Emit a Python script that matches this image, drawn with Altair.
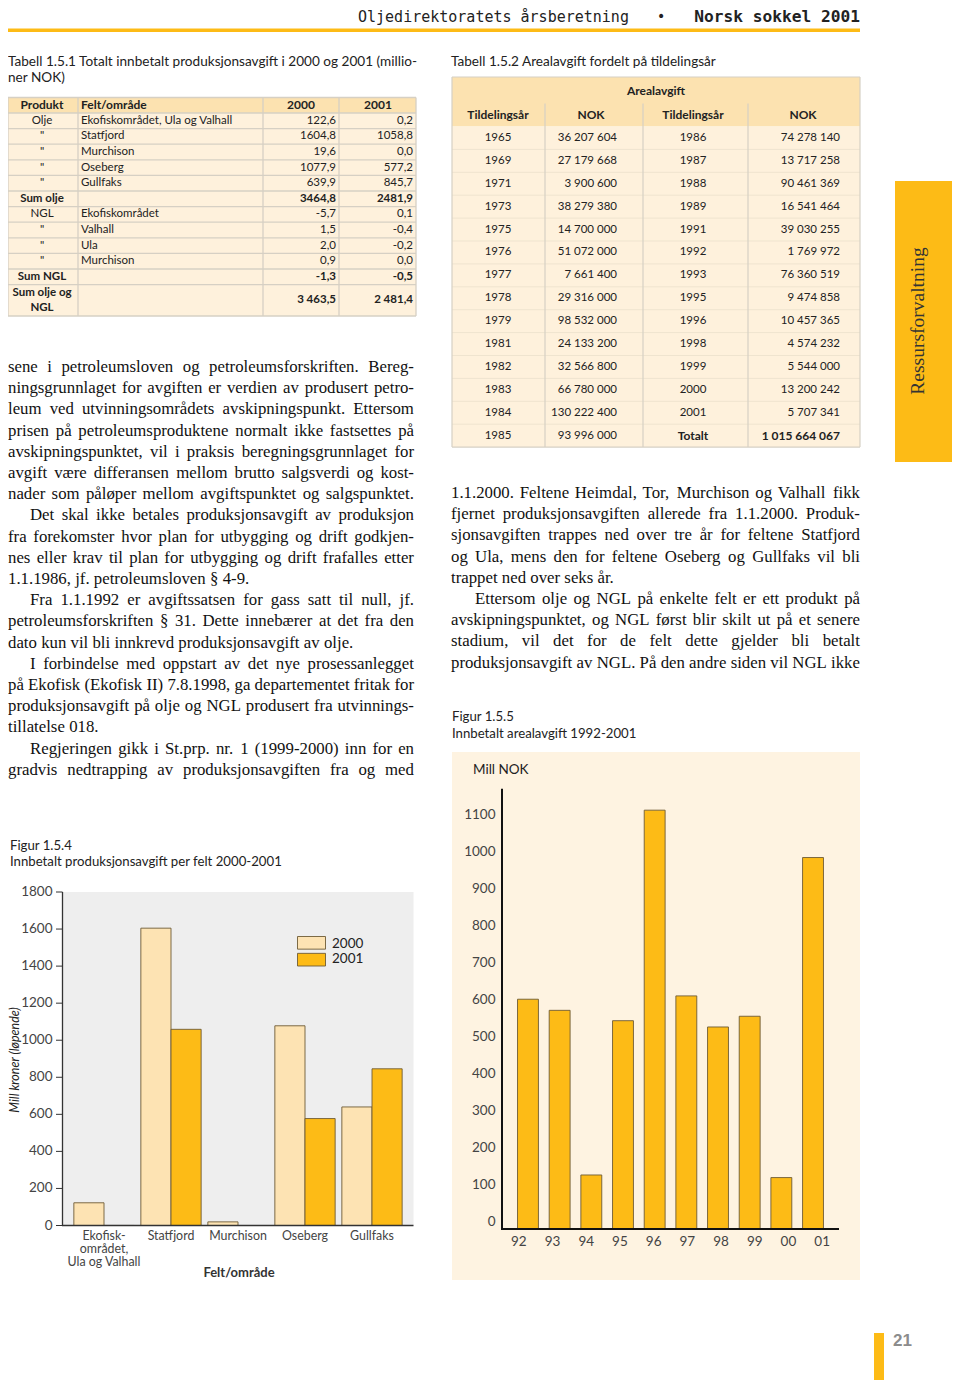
import altair as alt
import pandas as pd

# ---------------- texts and data (read from the page) ----------------
header = ["Oljedirektoratets årsberetning", "•", "Norsk sokkel 2001"]

t151_title = ["Tabell 1.5.1 Totalt innbetalt produksjonsavgift i 2000 og 2001 (millio-",
              "ner NOK)"]
t151_head = ["Produkt", "Felt/område", "2000", "2001"]
t151_produkt = ["Olje", "\"", "\"", "\"", "\"", "Sum olje", "NGL", "\"", "\"", "\"",
                "Sum NGL", "Sum olje og\nNGL"]
t151_felt = ["Ekofiskområdet, Ula og Valhall", "Statfjord", "Murchison", "Oseberg",
             "Gullfaks", "", "Ekofiskområdet", "Valhall", "Ula", "Murchison", "", ""]
t151_2000 = ["122,6", "1604,8", "19,6", "1077,9", "639,9", "3464,8", "-5,7", "1,5",
             "2,0", "0,9", "-1,3", "3 463,5"]
t151_2001 = ["0,2", "1058,8", "0,0", "577,2", "845,7", "2481,9", "0,1", "-0,4",
             "-0,2", "0,0", "-0,5", "2 481,4"]

t152_title = "Tabell 1.5.2 Arealavgift fordelt på tildelingsår"
t152_group = "Arealavgift"
t152_head = ["Tildelingsår", "NOK", "Tildelingsår", "NOK"]
t152_year_l = ["1965", "1969", "1971", "1973", "1975", "1976", "1977", "1978", "1979",
               "1981", "1982", "1983", "1984", "1985"]
t152_nok_l = ["36 207 604", "27 179 668", "3 900 600", "38 279 380", "14 700 000",
              "51 072 000", "7 661 400", "29 316 000", "98 532 000", "24 133 200",
              "32 566 800", "66 780 000", "130 222 400", "93 996 000"]
t152_year_r = ["1986", "1987", "1988", "1989", "1991", "1992", "1993", "1995", "1996",
               "1998", "1999", "2000", "2001", "Totalt"]
t152_nok_r = ["74 278 140", "13 717 258", "90 461 369", "16 541 464", "39 030 255",
              "1 769 972", "76 360 519", "9 474 858", "10 457 365", "4 574 232",
              "5 544 000", "13 200 242", "5 707 341", "1 015 664 067"]

left_paragraphs = [
    ["sene i petroleumsloven og petroleumsforskriften. Bereg-",
     "ningsgrunnlaget for avgiften er verdien av produsert petro-",
     "leum ved utvinningsområdets avskipningspunkt. Ettersom",
     "prisen på petroleumsproduktene normalt ikke fastsettes på",
     "avskipningspunktet, vil i praksis beregningsgrunnlaget for",
     "avgift være differansen mellom brutto salgsverdi og kost-",
     "nader som påløper mellom avgiftspunktet og salgspunktet."],
    ["Det skal ikke betales produksjonsavgift av produksjon",
     "fra forekomster hvor plan for utbygging og drift godkjen-",
     "nes eller krav til plan for utbygging og drift frafalles etter",
     "1.1.1986, jf. petroleumsloven § 4-9."],
    ["Fra 1.1.1992 er avgiftssatsen for gass satt til null, jf.",
     "petroleumsforskriften § 31. Dette innebærer at det fra den",
     "dato kun vil bli innkrevd produksjonsavgift av olje."],
    ["I forbindelse med oppstart av det nye prosessanlegget",
     "på Ekofisk (Ekofisk II) 7.8.1998, ga departementet fritak for",
     "produksjonsavgift på olje og NGL produsert fra utvinnings-",
     "tillatelse 018."],
    ["Regjeringen gikk i St.prp. nr. 1 (1999-2000) inn for en",
     "gradvis nedtrapping av produksjonsavgiften fra og med"],
]
right_paragraphs = [
    ["1.1.2000. Feltene Heimdal, Tor, Murchison og Valhall fikk",
     "fjernet produksjonsavgiften allerede fra 1.1.2000. Produk-",
     "sjonsavgiften trappes ned over tre år for feltene Statfjord",
     "og Ula, mens den for feltene Oseberg og Gullfaks vil bli",
     "trappet ned over seks år."],
    ["Ettersom olje og NGL på enkelte felt er ett produkt på",
     "avskipningspunktet, og NGL først blir skilt ut på et senere",
     "stadium, vil det for de felt dette gjelder bli betalt",
     "produksjonsavgift av NGL. På den andre siden vil NGL ikke"],
]

fig154_caption = ["Figur 1.5.4", "Innbetalt produksjonsavgift per felt 2000-2001"]
fig154_fields = ["Ekofisk-\nområdet,\nUla og Valhall", "Statfjord", "Murchison",
                 "Oseberg", "Gullfaks"]
fig154_years = ["2000", "2001"]
fig154_2000 = [122.6, 1604.8, 19.6, 1077.9, 639.9]
fig154_2001 = [0.2, 1058.8, 0.0, 577.2, 845.7]
fig154_yticks = [0, 200, 400, 600, 800, 1000, 1200, 1400, 1600, 1800]
fig154_ytitle = "Mill kroner (løpende)"
fig154_xtitle = "Felt/område"

fig155_caption = ["Figur 1.5.5", "Innbetalt arealavgift 1992-2001"]
fig155_years = ["92", "93", "94", "95", "96", "97", "98", "99", "00", "01"]
fig155_values = [621, 591, 146, 563, 1132, 630, 546, 575, 139, 1004]
fig155_yticks = [0, 100, 200, 300, 400, 500, 600, 700, 800, 900, 1000, 1100]
fig155_unit = "Mill NOK"

sidebar_label = "Ressursforvaltning"
page_number = "21"

# ---------------- styles ----------------
W, H = 944, 1372
M = 8
SANS = "Lato"
SERIF = "Liberation Serif"
INK = "#222222"
ORANGE = "#FDBB16"
PALE = "#FDE3B3"
HEAD = "#FCE2B0"
BODY = "#FEF1DC"
CREAM = "#FEF3E1"
GRID = "#D6D0C4"
GRAY = "#EEEEEE"
OUTLINE = "#6E5B36"
BODY_FS = 16.8

# Times / Liberation Serif advance widths (1/1000 em), used to justify body lines
_TW = {" ": 250, ".": 250, ",": 250, "-": 333, "(": 333, ")": 333, "§": 500, ":": 278,
       ";": 278, "å": 444, "ø": 500, "æ": 667, "Å": 722, "Ø": 722, "Æ": 889}
_TW.update({c: w for c, w in zip("abcdefghijklmnopqrstuvwxyz",
                                 [444, 500, 444, 500, 444, 333, 500, 500, 278, 278, 500,
                                  278, 778, 500, 500, 500, 500, 333, 389, 278, 500, 500,
                                  722, 500, 500, 444])})
_TW.update({c: w for c, w in zip("ABCDEFGHIJKLMNOPQRSTUVWXYZ",
                                 [722, 667, 667, 722, 611, 556, 722, 722, 333, 389, 722,
                                  611, 889, 722, 722, 556, 722, 667, 556, 611, 722, 722,
                                  944, 722, 722, 611])})
_TW.update({d: 500 for d in "0123456789"})


def tw(s, fs):
    return sum(_TW.get(c, 500) for c in s) * fs / 1000.0


def PXS():
    return alt.Scale(domain=[M, M + W], range=[0, W], nice=False, zero=False)


def PYS():
    return alt.Scale(domain=[M, M + H], range=[0, H], nice=False, zero=False)


def one(**kw):
    return pd.DataFrame([kw])


def tx(df, **style):
    s = dict(align="left", baseline="middle", font=SANS, fontSize=12, color=INK)
    s.update(style)
    return alt.Chart(df).mark_text(**s).encode(
        x=alt.X("x:Q", scale=PXS(), axis=None),
        y=alt.Y("y:Q", scale=PYS(), axis=None),
        text="t:N")


def rc(df, **style):
    return alt.Chart(df).mark_rect(**style).encode(
        x=alt.X("x:Q", scale=PXS(), axis=None), x2="x2:Q",
        y=alt.Y("y:Q", scale=PYS(), axis=None), y2="y2:Q")


def ru(df, **style):
    return alt.Chart(df).mark_rule(**style).encode(
        x=alt.X("x:Q", scale=PXS(), axis=None), x2="x2:Q",
        y=alt.Y("y:Q", scale=PYS(), axis=None), y2="y2:Q")


layers = []

# ---------------- header ----------------
HY = 17
layers.append(tx(one(x=358, y=HY, t=header[0]), font="DejaVu Sans Mono", fontSize=15))
layers.append(tx(one(x=661, y=HY, t=header[1]), align="center", font="DejaVu Sans",
                 fontSize=14))
layers.append(tx(one(x=860, y=HY, t=header[2]), align="right", font="DejaVu Sans Mono",
                 fontWeight="bold", fontSize=16.2))
layers.append(rc(one(x=8, x2=860, y=28.5, y2=32), color=ORANGE))

# ---------------- table 1.5.1 ----------------
layers.append(tx(pd.DataFrame({"x": [8, 8], "y": [62, 78], "t": t151_title}), fontSize=13.6))
T1X = [8, 78, 263, 339, 416]
T1_TOP, T1_HB = 97.5, 113
RH1 = 15.6
n1 = len(t151_produkt)
bounds1 = [T1_HB + RH1 * i for i in range(n1)] + [316]
layers.append(rc(one(x=T1X[0], x2=T1X[-1], y=T1_TOP, y2=T1_HB), color=HEAD))
layers.append(rc(one(x=T1X[0], x2=T1X[-1], y=T1_HB, y2=bounds1[-1]), color=BODY))
hl = [T1_TOP] + bounds1
layers.append(ru(pd.DataFrame({"x": T1X[0], "x2": T1X[-1], "y": hl, "y2": hl}),
                 color=GRID, strokeWidth=1.3))
layers.append(ru(pd.DataFrame({"x": T1X, "x2": T1X, "y": T1_TOP, "y2": bounds1[-1]}),
                 color=GRID, strokeWidth=1.3))
hy1 = (T1_TOP + T1_HB) / 2
layers.append(tx(pd.DataFrame({"x": [42, 301, 378], "y": hy1,
                               "t": [t151_head[0], t151_head[2], t151_head[3]]}),
                 align="center", fontWeight="bold", fontSize=12))
layers.append(tx(one(x=81, y=hy1, t=t151_head[1]), fontWeight="bold", fontSize=12))

LH1 = 15
rows1 = []
for i in range(n1):
    yc = (bounds1[i] + bounds1[i + 1]) / 2
    nl = t151_produkt[i].count("\n")
    rows1.append(dict(y=yc, yp=yc - nl * LH1 / 2, p=t151_produkt[i], f=t151_felt[i],
                      a=t151_2000[i], b=t151_2001[i],
                      bold=t151_produkt[i].startswith("Sum")))
r1 = pd.DataFrame(rows1)
for bold in (False, True):
    sub = r1[r1.bold == bold]
    w = "bold" if bold else "normal"
    layers.append(tx(pd.DataFrame({"x": 42, "y": sub.yp, "t": sub.p}), align="center",
                     fontWeight=w, fontSize=11.5, lineBreak="\n", lineHeight=LH1))
    layers.append(tx(pd.DataFrame({"x": 336, "y": sub.y, "t": sub.a}), align="right",
                     fontWeight=w, fontSize=11.5))
    layers.append(tx(pd.DataFrame({"x": 413, "y": sub.y, "t": sub.b}), align="right",
                     fontWeight=w, fontSize=11.5))
layers.append(tx(pd.DataFrame({"x": 81, "y": r1.y, "t": r1.f}), fontSize=11.5))

# ---------------- table 1.5.2 ----------------
layers.append(tx(one(x=451, y=62, t=t152_title), fontSize=13.6))
T2X = [452, 545, 643, 748, 860]
T2_TOP, T2_H1, T2_H2 = 77, 103.5, 126.5
RH2 = 22.9
n2 = len(t152_year_l)
bounds2 = [T2_H2 + RH2 * i for i in range(n2 + 1)]
layers.append(rc(one(x=T2X[0], x2=T2X[-1], y=T2_TOP, y2=T2_H2), color=HEAD))
layers.append(rc(one(x=T2X[0], x2=T2X[-1], y=T2_H2, y2=bounds2[-1]), color=BODY))
layers.append(ru(pd.DataFrame({"x": T2X[0], "x2": T2X[-1], "y": bounds2[1:-1],
                               "y2": bounds2[1:-1]}), color="#EFE4CF", strokeWidth=1))
layers.append(ru(pd.DataFrame({"x": T2X[1:-1], "x2": T2X[1:-1], "y": T2_H1,
                               "y2": bounds2[-1]}), color=GRID, strokeWidth=1.2))
layers.append(ru(pd.DataFrame({"x": [T2X[0], T2X[0], T2X[0], T2X[-1]],
                               "x2": [T2X[-1], T2X[-1], T2X[0], T2X[-1]],
                               "y": [T2_TOP, bounds2[-1], T2_TOP, T2_TOP],
                               "y2": [T2_TOP, bounds2[-1], bounds2[-1], bounds2[-1]]}),
                 color=GRID, strokeWidth=1.2))
layers.append(tx(one(x=656, y=(T2_TOP + T2_H1) / 2 + 1, t=t152_group), align="center",
                 fontWeight="bold", fontSize=12))
layers.append(tx(pd.DataFrame({"x": [498, 591, 693, 803], "y": (T2_H1 + T2_H2) / 2,
                               "t": t152_head}), align="center", fontWeight="bold",
                 fontSize=12))
ry2 = [(bounds2[i] + bounds2[i + 1]) / 2 for i in range(n2)]
layers.append(tx(pd.DataFrame({"x": 498, "y": ry2, "t": t152_year_l}), align="center",
                 fontSize=11.5))
layers.append(tx(pd.DataFrame({"x": 617, "y": ry2, "t": t152_nok_l}), align="right",
                 fontSize=11.5))
layers.append(tx(pd.DataFrame({"x": 693, "y": ry2[:-1], "t": t152_year_r[:-1]}),
                 align="center", fontSize=11.5))
layers.append(tx(pd.DataFrame({"x": 840, "y": ry2[:-1], "t": t152_nok_r[:-1]}),
                 align="right", fontSize=11.5))
layers.append(tx(one(x=693, y=ry2[-1], t=t152_year_r[-1]), align="center",
                 fontWeight="bold", fontSize=12))
layers.append(tx(one(x=840, y=ry2[-1], t=t152_nok_r[-1]), align="right",
                 fontWeight="bold", fontSize=12))


# ---------------- body text (justified word by word) ----------------
def body_df(paragraphs, x0, indent, width, y0, pitch, fs, continues):
    rows, i = [], 0
    space = tw(" ", fs)
    for p_i, para in enumerate(paragraphs):
        for l_i, line in enumerate(para):
            start = x0 + (indent if (p_i > 0 and l_i == 0) else 0)
            avail = x0 + width - start
            words = line.split(" ")
            ws = [tw(w, fs) for w in words]
            natural = sum(ws) + space * (len(words) - 1)
            last = (l_i == len(para) - 1) and not (continues and p_i == len(paragraphs) - 1)
            if len(words) > 1 and (not last or natural >= 0.95 * avail):
                gap = max((avail - sum(ws)) / (len(words) - 1), 0.6 * space)
            else:
                gap = space
            x = start
            for w, wd in zip(words, ws):
                rows.append(dict(x=x, y=y0 + i * pitch, t=w))
                x += wd + gap
            i += 1
    return pd.DataFrame(rows)


layers.append(tx(body_df(left_paragraphs, 8, 22, 406, 367, 21.2, BODY_FS, True),
                 font=SERIF, fontSize=BODY_FS, color="#111"))
layers.append(tx(body_df(right_paragraphs, 451, 24, 409, 493, 21.2, BODY_FS, True),
                 font=SERIF, fontSize=BODY_FS, color="#111"))

# ---------------- figure 1.5.4 ----------------
layers.append(tx(pd.DataFrame({"x": 10, "y": [846, 862], "t": fig154_caption}),
                 fontSize=13.2))
y154 = alt.Scale(domain=[0, 1800], range=[1225.5 - M, 892 - M], nice=False, zero=False)
x154 = alt.Scale(domain=fig154_fields, range=[70.5 - M, 405.5 - M], paddingInner=0.1,
                 paddingOuter=0.05)
ext = pd.DataFrame({"a": [0], "b": [1800]})
layers.append(alt.Chart(ext).mark_rect(color=GRAY).encode(
    x=alt.value(62 - M), x2=alt.value(413.5 - M),
    y=alt.Y("b:Q", scale=y154, axis=None), y2="a:Q"))
df154 = pd.DataFrame({"field": fig154_fields * 2,
                      "year": [fig154_years[0]] * 5 + [fig154_years[1]] * 5,
                      "v": fig154_2000 + fig154_2001})
layers.append(alt.Chart(df154).mark_bar(stroke=OUTLINE, strokeWidth=0.9).encode(
    x=alt.X("field:N", scale=x154, axis=None),
    xOffset=alt.XOffset("year:N", scale=alt.Scale(domain=fig154_years, paddingInner=0,
                                                  paddingOuter=0)),
    y=alt.Y("v:Q", scale=y154, axis=None, stack=None),
    color=alt.Color("year:N", scale=alt.Scale(domain=fig154_years, range=[PALE, ORANGE]),
                    legend=None)))
layers.append(alt.Chart(ext).mark_rule(color="#333", strokeWidth=1.3).encode(
    x=alt.value(62.5 - M), y=alt.Y("a:Q", scale=y154, axis=None), y2="b:Q"))
layers.append(alt.Chart(ext).mark_rule(color="#333", strokeWidth=1.6).encode(
    x=alt.value(62 - M), x2=alt.value(413.5 - M), y=alt.Y("a:Q", scale=y154, axis=None)))
t154 = pd.DataFrame({"v": fig154_yticks, "t": [str(v) for v in fig154_yticks]})
layers.append(alt.Chart(t154).mark_rule(color="#333", strokeWidth=1).encode(
    x=alt.value(56 - M), x2=alt.value(62.5 - M), y=alt.Y("v:Q", scale=y154, axis=None)))
layers.append(alt.Chart(t154).mark_text(align="right", baseline="middle", font=SANS,
                                        fontSize=13.5, color="#444").encode(
    x=alt.value(52.5 - M), y=alt.Y("v:Q", scale=y154, axis=None), text="t:N"))
lab154 = pd.DataFrame({"field": fig154_fields})
layers.append(alt.Chart(lab154).mark_text(align="center", baseline="top", font=SANS,
                                          fontSize=12.4, color="#444", lineBreak="\n",
                                          lineHeight=13).encode(
    x=alt.X("field:N", scale=x154, axis=None), y=alt.value(1229.5 - M), text="field:N"))
layers.append(tx(one(x=239, y=1273, t=fig154_xtitle), align="center", fontWeight="bold",
                 fontSize=13, color="#333"))
layers.append(tx(one(x=15, y=1060, t=fig154_ytitle), align="center", angle=270,
                 fontStyle="italic", fontSize=12.5, color="#222"))
leg = pd.DataFrame({"year": fig154_years})
ly = alt.Scale(domain=fig154_years, range=[936.5 - M, 966 - M], paddingInner=0.25,
               paddingOuter=0)
layers.append(alt.Chart(leg).mark_bar(stroke=OUTLINE, strokeWidth=0.9).encode(
    y=alt.Y("year:N", scale=ly, axis=None),
    x=alt.value(297.5 - M), x2=alt.value(325.5 - M),
    color=alt.Color("year:N", scale=alt.Scale(domain=fig154_years, range=[PALE, ORANGE]),
                    legend=None)))
layers.append(alt.Chart(leg).mark_text(align="left", baseline="middle", font=SANS,
                                       fontSize=13.5, color=INK).encode(
    y=alt.Y("year:N", scale=ly, axis=None), x=alt.value(332 - M), text="year:N"))

# ---------------- figure 1.5.5 ----------------
layers.append(tx(pd.DataFrame({"x": 452, "y": [717, 734], "t": fig155_caption}),
                 fontSize=13.2))
layers.append(rc(one(x=452, x2=860, y=752, y2=1280), color=CREAM))
layers.append(tx(one(x=473, y=770, t=fig155_unit), fontSize=13.5))
y155 = alt.Scale(domain=[0, 1190], range=[1229 - M, 1229 - M - 1190 * 0.37], nice=False,
                 zero=False)
x155 = alt.Scale(domain=fig155_years, range=[502 - M, 839 - M], paddingInner=0.34,
                 paddingOuter=0.49)
ext5 = pd.DataFrame({"a": [0], "b": [1190]})
df155 = pd.DataFrame({"yr": fig155_years, "v": fig155_values})
layers.append(alt.Chart(df155).mark_bar(color=ORANGE, stroke=OUTLINE, strokeWidth=0.9).encode(
    x=alt.X("yr:N", scale=x155, axis=None),
    y=alt.Y("v:Q", scale=y155, axis=None)))
layers.append(alt.Chart(ext5).mark_rule(color="#111", strokeWidth=2).encode(
    x=alt.value(502 - M), y=alt.Y("a:Q", scale=y155, axis=None), y2="b:Q"))
layers.append(alt.Chart(ext5).mark_rule(color="#111", strokeWidth=2).encode(
    x=alt.value(501 - M), x2=alt.value(839 - M), y=alt.Y("a:Q", scale=y155, axis=None)))
t155 = pd.DataFrame({"v": fig155_yticks, "t": [str(v) for v in fig155_yticks]})
layers.append(alt.Chart(t155).mark_text(align="right", baseline="middle", font=SANS,
                                        fontSize=13.5, color="#444", dy=-7).encode(
    x=alt.value(495.5 - M), y=alt.Y("v:Q", scale=y155, axis=None), text="t:N"))
layers.append(alt.Chart(df155).mark_text(align="center", baseline="middle", font=SANS,
                                         fontSize=13.5, color="#444").encode(
    x=alt.X("yr:N", scale=x155, axis=None), y=alt.value(1242 - M), text="yr:N"))

# ---------------- sidebar & page number ----------------
layers.append(rc(one(x=895, x2=960, y=181, y2=462), color=ORANGE))
layers.append(tx(one(x=918, y=321, t=sidebar_label), align="center", angle=270,
                 font=SERIF, fontSize=19.5, color="#333"))
layers.append(rc(one(x=874, x2=884, y=1333, y2=1397), color=ORANGE))
layers.append(tx(one(x=893, y=1341, t=page_number), font="Liberation Sans",
                 fontWeight="bold", fontSize=17, color="#8C8C8C"))

chart = alt.layer(*layers).resolve_scale(
    x="independent", y="independent", color="independent"
).properties(
    width=W, height=H, padding=0, autosize="none", background="white"
).configure_view(stroke=None)

chart.save("out.html", embed_options={"renderer": "svg", "actions": False})
